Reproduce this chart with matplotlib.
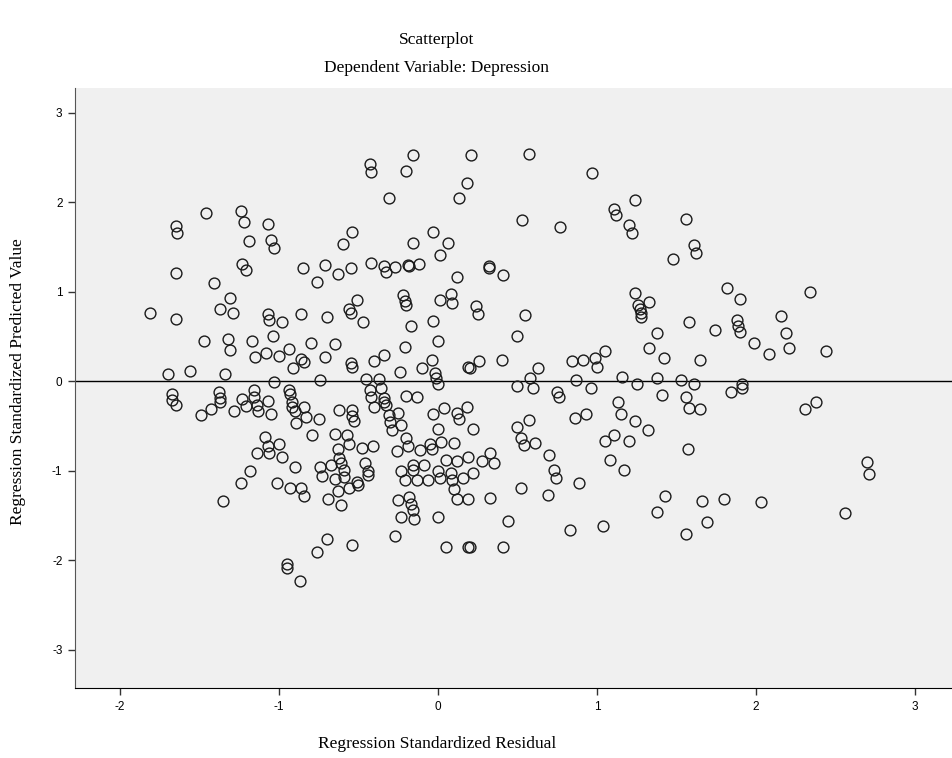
import matplotlib
matplotlib.use("Agg")
import matplotlib.pyplot as plt

# standardized residual (x) and standardized predicted value (y)
resid = [
    -1.65, -1.64, -1.46, -1.24, -1.22, -1.07, -1.19, -1.05, -1.03, -1.23, -1.21, -1.65,
    -0.43, -0.42, -0.16, -0.20, 0.21, 0.18, 0.13, -0.31, 0.53, -0.54, -0.60, -0.03,
    0.06, 0.01, -0.16, -0.85, -0.71, -0.55, -0.63, -0.42, -0.34, -0.33, -0.27, -0.19,
    -0.18, -0.12, 0.32, 0.32, 0.12, 0.41, 0.57, 0.97, 0.77, 1.11, 1.12, 1.24, 1.20,
    1.22, 1.56, 1.61, 1.62, 1.48, -1.41, -1.31, -1.37, -1.29, -1.81, -1.65, -1.07,
    -1.06, -0.98, -0.86, -1.47, -1.32, -1.31, -1.17, -1.04, -1.15, -1.08, -1.00, -0.94,
    -0.91, -1.70, -1.56, -1.34, -1.03, -1.67, -1.67, -1.65, -1.38, -1.37, -1.37, -1.49,
    -1.43, -1.28, -1.23, -1.16, -1.16, -1.21, -1.14, -1.13, -1.07, -1.05, -0.94, -0.93,
    -0.92, -0.92, -0.90, -0.89, -0.76, -0.22, -0.21, -0.20, 0.01, 0.08, 0.09, 0.24,
    0.25, -0.70, -0.56, -0.55, -0.51, -0.47, -0.17, -0.03, 0.00, -0.21, -0.80, -0.65,
    -0.71, -0.86, -0.84, -0.55, -0.54, -0.40, -0.34, -0.24, -0.10, -0.04, -0.02, -0.01,
    0.00, 0.19, 0.20, 0.26, 0.40, 0.50, -0.74, -0.45, -0.37, -0.43, -0.42, -0.36,
    -0.40, -0.34, -0.34, -0.33, -0.20, -0.13, 0.50, -0.84, -0.83, -0.75, -0.62, -0.54,
    -0.54, -0.53, -0.31, -0.30, -0.25, -0.23, -0.29, -0.03, 0.04, 0.12, 0.13, 0.18,
    0.00, 0.22, 0.50, 0.55, 1.24, 1.33, 1.26, 1.27, 1.28, 1.28, 1.82, 1.90, 1.58,
    1.74, 1.88, 1.89, 1.90, 1.38, 1.33, 1.42, 1.65, 1.05, 0.99, 1.00, 0.91, 0.84,
    0.63, 0.58, 0.60, 0.87, 0.96, 0.75, 0.76, 1.16, 1.25, 1.38, 1.53, 1.61, 1.84,
    1.41, 1.56, 1.58, 1.65, 1.13, 1.15, 1.24, 1.32, 0.86, 0.93, 0.57, 2.34, 2.16,
    2.19, 2.21, 1.99, 2.08, 2.44, 1.91, 1.91, 2.38, 2.31, -1.09, -1.00, -1.07, -1.06,
    -1.14, -0.98, -0.90, -1.18, -1.24, -1.01, -0.93, -1.35, -0.95, -0.95, -0.87,
    -0.79, -0.65, -0.57, -0.56, -0.63, -0.48, -0.41, -0.62, -0.61, -0.74, -0.67,
    -0.73, -0.65, -0.59, -0.59, -0.46, -0.44, -0.44, -0.51, -0.50, -0.56, -0.63,
    -0.69, -0.61, -0.86, -0.84, -0.26, -0.20, -0.19, -0.11, -0.05, -0.04, 0.02, 0.10,
    -0.23, -0.16, -0.16, -0.09, -0.21, -0.13, -0.06, 0.00, 0.01, 0.05, 0.12, 0.08,
    0.09, 0.16, 0.19, 0.22, 0.28, 0.33, 0.35, 0.10, 0.12, 0.19, 0.33, -0.25, -0.18,
    -0.17, -0.16, -0.23, -0.15, 0.00, 0.44, 0.52, -0.27, -0.70, -0.76, -0.54, 0.05,
    0.19, 0.20, 0.41, 0.52, 0.54, 0.61, 0.70, 0.73, 0.74, 0.69, 0.89, 1.05, 1.11,
    1.20, 1.08, 1.17, 1.57, 1.43, 1.38, 1.66, 1.80, 1.69, 1.56, 0.83, 1.04, 2.03,
    2.70, 2.71, 2.56,
]
pred = [
    1.73, 1.65, 1.88, 1.90, 1.78, 1.76, 1.56, 1.58, 1.49, 1.31, 1.24, 1.21,
    2.43, 2.34, 2.53, 2.35, 2.53, 2.21, 2.05, 2.05, 1.80, 1.67, 1.53, 1.67,
    1.54, 1.41, 1.54, 1.26, 1.30, 1.26, 1.20, 1.32, 1.28, 1.22, 1.27, 1.30,
    1.29, 1.31, 1.28, 1.26, 1.16, 1.18, 2.54, 2.32, 1.72, 1.92, 1.86, 2.02, 1.74,
    1.65, 1.81, 1.52, 1.43, 1.36, 1.09, 0.93, 0.80, 0.76, 0.76, 0.69, 0.75,
    0.68, 0.66, 0.75, 0.45, 0.47, 0.35, 0.45, 0.50, 0.27, 0.31, 0.28, 0.36,
    0.15, 0.08, 0.11, 0.08, -0.01, -0.15, -0.21, -0.27, -0.12, -0.19, -0.23, -0.38,
    -0.31, -0.34, -0.20, -0.10, -0.18, -0.28, -0.27, -0.34, -0.22, -0.37, -0.10, -0.14,
    -0.24, -0.29, -0.34, -0.47, 1.11, 0.96, 0.89, 0.85, 0.91, 0.97, 0.87, 0.84,
    0.75, 0.71, 0.81, 0.76, 0.90, 0.66, 0.61, 0.67, 0.45, 0.38, 0.42, 0.41,
    0.27, 0.25, 0.21, 0.20, 0.16, 0.22, 0.29, 0.10, 0.14, 0.24, 0.09, 0.03,
    -0.03, 0.16, 0.14, 0.22, 0.24, 0.50, 0.01, 0.02, 0.02, -0.10, -0.18, -0.08,
    -0.29, -0.19, -0.23, -0.27, -0.17, -0.18, -0.06, -0.29, -0.40, -0.42, -0.32, -0.32,
    -0.39, -0.45, -0.38, -0.46, -0.36, -0.49, -0.55, -0.37, -0.30, -0.36, -0.42, -0.29,
    -0.54, -0.54, -0.51, 0.74, 0.98, 0.88, 0.85, 0.80, 0.76, 0.72, 1.04, 0.92, 0.66,
    0.57, 0.68, 0.61, 0.55, 0.54, 0.37, 0.26, 0.24, 0.34, 0.26, 0.16, 0.24, 0.22,
    0.14, 0.03, -0.08, 0.01, -0.08, -0.12, -0.18, 0.05, -0.03, 0.03, 0.01, -0.03, -0.12,
    -0.16, -0.18, -0.30, -0.31, -0.23, -0.37, -0.45, -0.55, -0.41, -0.37, -0.44, 1.00, 0.73,
    0.54, 0.37, 0.43, 0.30, 0.34, -0.03, -0.08, -0.23, -0.31, -0.62, -0.70, -0.73, -0.80,
    -0.80, -0.85, -0.96, -1.01, -1.14, -1.14, -1.19, -1.34, -2.04, -2.09, -2.24,
    -0.60, -0.59, -0.60, -0.70, -0.76, -0.75, -0.73, -0.86, -0.92, -0.96, -0.94,
    -1.06, -1.09, -0.99, -1.07, -0.92, -1.01, -1.05, -1.13, -1.16, -1.19, -1.23,
    -1.32, -1.39, -1.20, -1.29, -0.78, -0.64, -0.73, -0.77, -0.70, -0.76, -0.68, -0.69,
    -1.01, -0.94, -0.99, -0.94, -1.11, -1.11, -1.11, -1.01, -1.08, -0.88, -0.89, -1.03,
    -1.11, -1.08, -0.85, -1.03, -0.89, -0.80, -0.92, -1.21, -1.32, -1.32, -1.31, -1.33, -1.30,
    -1.37, -1.44, -1.52, -1.54, -1.52, -1.56, -1.19, -1.73, -1.76, -1.91, -1.83, -1.85,
    -1.85, -1.86, -1.85, -0.64, -0.72, -0.69, -0.83, -0.99, -1.08, -1.27, -1.14, -0.67, -0.60,
    -0.67, -0.88, -0.99, -0.76, -1.29, -1.46, -1.34, -1.32, -1.57, -1.71, -1.67, -1.62, -1.35,
    -0.91, -1.04, -1.47,
]

ticks = [-3, -2, -1, 0, 1, 2, 3]

fig = plt.figure(figsize=(9.52, 7.58), dpi=100)
ax = fig.add_axes([75 / 952, 70 / 758, 1 - 75 / 952, 600 / 758])
ax.set_facecolor("#f0f0f0")

ax.plot(resid, pred, "o", ms=7.8, mfc="none", mec="#1a1a1a", mew=1.0, zorder=3)
ax.axhline(0, color="black", lw=1.0, zorder=2)

ax.set_xlim(-2.283, 3.233)
ax.set_ylim(-3.43, 3.274)
ax.set_xticks(ticks[1:])
ax.set_yticks(ticks)
ax.set_xticklabels([str(t) for t in ticks[1:]], family="Liberation Sans", fontsize=8.5)
ax.set_yticklabels([str(t) for t in ticks], family="Liberation Sans", fontsize=8.5)
ax.tick_params(direction="out", length=5, width=1, color="#333333", pad=4)

for side in ["top", "right"]:
    ax.spines[side].set_visible(False)
ax.spines["left"].set_color("#555555")
ax.spines["bottom"].set_color("black")

serif = "Liberation Serif"
fig.text(437 / 952, 1 - 40 / 758, "Scatterplot", ha="center", va="center",
         family=serif, fontsize=12.5)
fig.text(437 / 952, 1 - 68 / 758, "Dependent Variable: Depression", ha="center",
         va="center", family=serif, fontsize=12.5)
fig.text(437 / 952, 1 - 744 / 758, "Regression Standardized Residual", ha="center",
         va="center", family=serif, fontsize=12.5)
fig.text(18 / 952, 1 - 382 / 758, "Regression Standardized Predicted Value",
         ha="center", va="center", rotation=90, family=serif, fontsize=12.5)

fig.savefig("out.png", dpi=100)
